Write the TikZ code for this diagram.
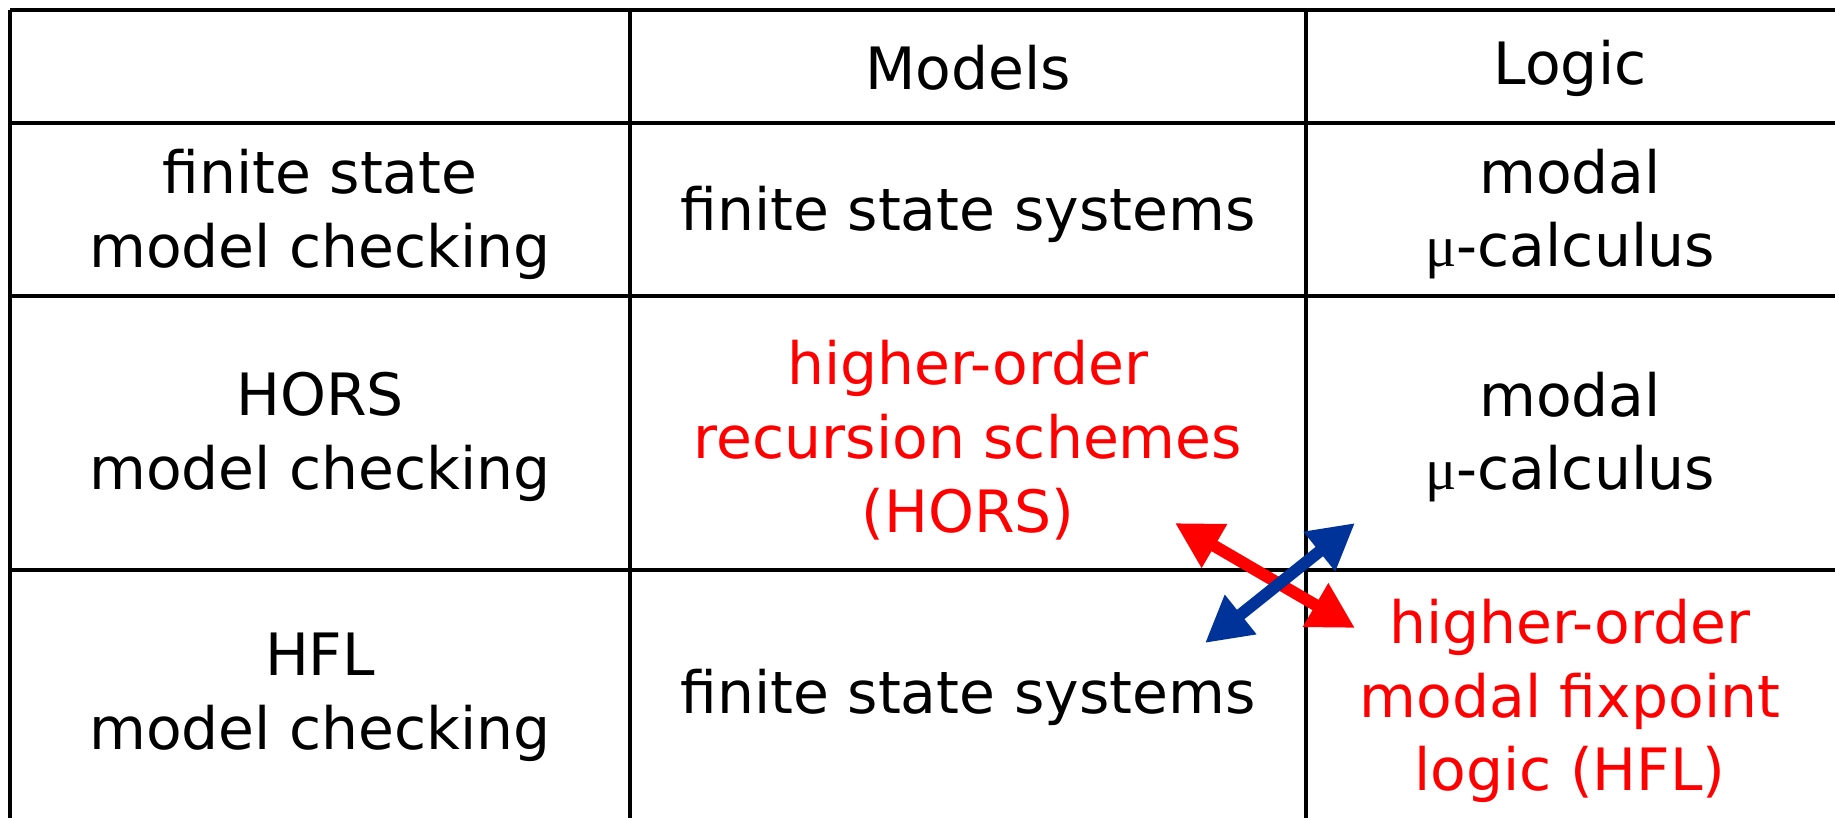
\documentclass[tikz,border=0pt]{standalone}
\usepackage{fontspec}
\setmainfont{DejaVu Sans}
\newfontfamily\greekfont{Liberation Serif}
\usetikzlibrary{arrows.meta, positioning}
\definecolor{deepblue}{HTML}{003399}
\tikzset{
    cell/.style={align=center, inner sep=0pt, font=\fontsize{16.6}{21}\selectfont},
    hot cell/.style={cell, text=red},
    rule/.style={line width=1.1pt},
    swap arrow/.style={line width=3.4pt,
        {Triangle[length=13pt, width=13.5pt]}-{Triangle[length=13pt, width=13.5pt]}}
}

\begin{document}
\begin{tikzpicture}[x=0.01cm, y=-0.01cm]
    \useasboundingbox (0,0) rectangle (1835,817);
    \clip (0,0) rectangle (1835,817);

    % Grid
    \foreach \y in {10, 123, 296, 570}
        \draw[rule] (10,\y) -- (1840,\y);
    \foreach \x in {10, 630, 1306}
        \draw[rule] (\x,10) -- (\x,830);

    % Header
    \node[cell] (models) at (968,68) {Models};
    \node[cell] (logic) at (1570,68) {Logic};

    % Finite state row
    \node[cell] (fsmc) at (320,214) {finite state\\model checking};
    \node[cell] (fss top) at (968,214) {finite state systems};
    \node[cell] (mu top) at (1570,214) {modal\\{\greekfont μ}-calculus};

    % HORS row
    \node[cell] (horsmc) at (320,437) {HORS\\model checking};
    \node[hot cell] (hors) at (968,440) {higher-order\\recursion schemes\\(HORS)};
    \node[cell] (mu mid) at (1570,437) {modal\\{\greekfont μ}-calculus};

    % HFL row
    \node[cell] (hflmc) at (320,697) {HFL\\model checking};
    \node[cell] (fss low) at (968,697) {finite state systems};
    \node[hot cell] (hfl) at (1570,701) {higher-order\\modal fixpoint\\logic (HFL)};

    % Arrows
    \coordinate (red a) at (1175,523);
    \coordinate (red b) at (1355,628);
    \coordinate (blue a) at (1205,643);
    \coordinate (blue b) at (1355,523);
    \draw[swap arrow, red] (red a) -- (red b);
    \draw[swap arrow, deepblue] (blue a) -- (blue b);
\end{tikzpicture}
\end{document}
